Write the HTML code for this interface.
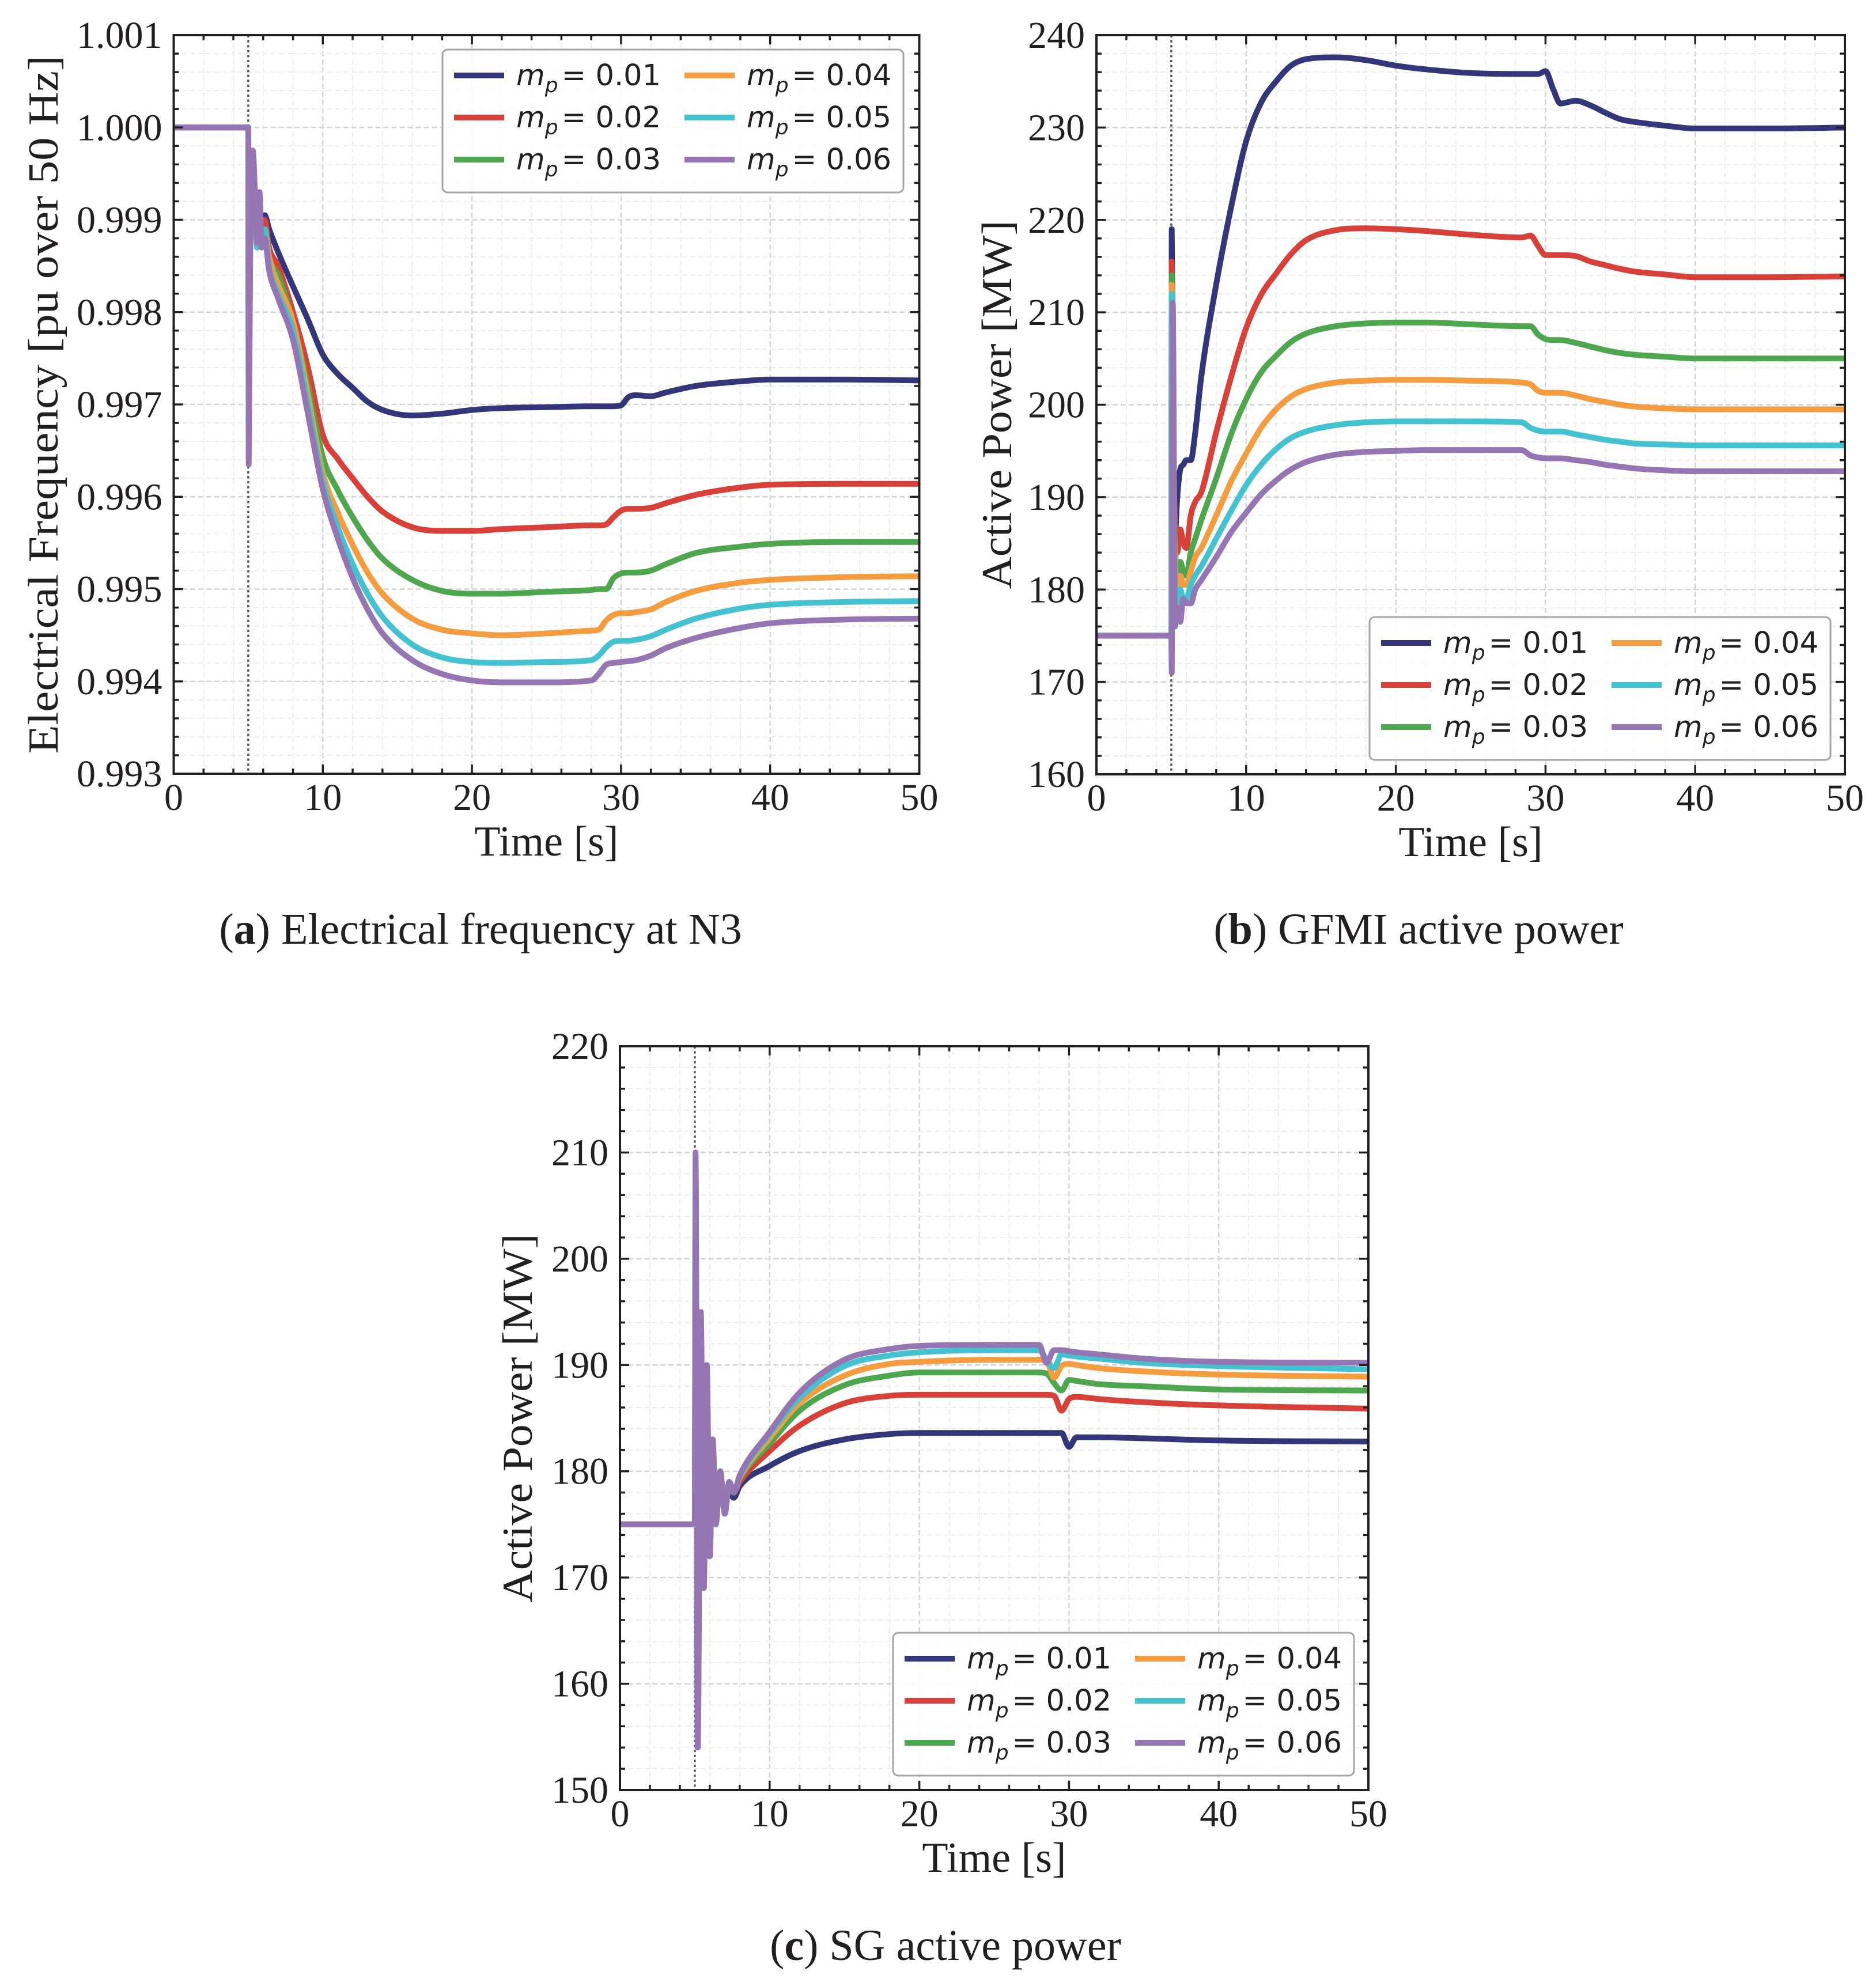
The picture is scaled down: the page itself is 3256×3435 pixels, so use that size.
<!DOCTYPE html>
<html><head><meta charset="utf-8"><title>Frequency and active power responses</title>
<style>html,body{margin:0;padding:0;background:#fff}svg{display:block}</style></head>
<body>
<svg id="fig" width="3256" height="3435" viewBox="0 0 3256 3435" xmlns="http://www.w3.org/2000/svg"></svg>
<script>
// ---------- data ----------
const seriesLabels = ["0.01","0.02","0.03","0.04","0.05","0.06"];
const seriesColors = ["#33377a","#d8403a","#4ea64e","#f39c40","#45c2d0","#9675b3"];

// (a) frequency
const timeA = [0,5,5.03,5.15,5.3,5.45,5.6,5.75,5.9,6.1,6.4,7,8,9,10,11,12,13,14,16,18,20,22,25,28,28.5,29,29.5,30,30.5,31,32,33,35,38,40,45,50];
const freqMp01 = [1,1,0.9975,0.9993,0.9996,0.9992,0.9988,0.999,0.99895,0.99905,0.9989,0.99865,0.99828,0.99792,0.99754,0.99733,0.99718,0.99703,0.99694,0.99688,0.9969,0.99694,0.99696,0.99697,0.99698,0.99698,0.99698,0.99698,0.99699,0.99708,0.9971,0.99709,0.99713,0.9972,0.99725,0.99727,0.99727,0.99726];
const freqMp02 = [1,1,0.9972,0.9992,0.9996,0.9991,0.9987,0.999,0.9988,0.999,0.9987,0.9985,0.998,0.9974,0.99667,0.99641,0.9962,0.996,0.99584,0.99567,0.99563,0.99563,0.99565,0.99567,0.99569,0.99569,0.9957,0.99578,0.99585,0.99587,0.99587,0.99588,0.99593,0.99602,0.9961,0.99613,0.99614,0.99614];
const freqMp03 = [1,1,0.997,0.9992,0.9996,0.9991,0.9987,0.999,0.9987,0.9989,0.9986,0.9984,0.9979,0.9972,0.99643,0.99607,0.99578,0.99553,0.99533,0.9951,0.99498,0.99495,0.99495,0.99497,0.99499,0.995,0.995,0.99512,0.99517,0.99518,0.99518,0.9952,0.99527,0.99539,0.99546,0.99549,0.99551,0.99551];
const freqMp04 = [1,1,0.9969,0.9992,0.99965,0.9991,0.9987,0.9991,0.9987,0.9989,0.9986,0.9983,0.9979,0.9971,0.99626,0.99583,0.99548,0.99518,0.99495,0.99468,0.99456,0.99452,0.9945,0.99452,0.99455,0.99456,0.99466,0.99472,0.99474,0.99474,0.99475,0.99478,0.99486,0.99498,0.99507,0.9951,0.99513,0.99514];
const freqMp05 = [1,1,0.9967,0.9992,0.9997,0.9992,0.9987,0.9992,0.9987,0.9989,0.9985,0.9982,0.9978,0.997,0.99617,0.99567,0.99527,0.99495,0.9947,0.9944,0.99426,0.99421,0.9942,0.99421,0.99423,0.99428,0.99437,0.99443,0.99444,0.99444,0.99445,0.99449,0.99456,0.99468,0.99479,0.99483,0.99486,0.99487];
const freqMp06 = [1,1,0.99635,0.9992,0.99975,0.9993,0.99875,0.9993,0.9987,0.9988,0.99845,0.99815,0.9977,0.9969,0.99608,0.99555,0.99512,0.99478,0.99452,0.99423,0.99408,0.99401,0.99399,0.99399,0.99401,0.99408,0.99418,0.9942,0.99421,0.99422,0.99423,0.99428,0.99436,0.99447,0.99458,0.99463,0.99467,0.99468];
const yTicksA = ["0.993","0.994","0.995","0.996","0.997","0.998","0.999","1.000","1.001"];

// (b) GFMI active power
const timeB = [0,5,5.03,5.1,5.25,5.4,5.6,5.8,6.0,6.3,6.6,7,8,9,10,11,12,13,14,16,18,20,22,25,28.4,29,29.5,30,30.5,31,32,33,34,35,36,38,40,45,50];
const gfmiMp01 = [175,175,219,205,186,190,193,193.5,194,194,197,203,213,221.4,228.5,232.7,235,236.7,237.4,237.6,237.3,236.7,236.3,235.9,235.8,235.8,235.8,236.1,234.2,232.6,232.9,232.4,231.6,230.9,230.6,230.2,229.9,229.9,230.0];
const gfmiMp02 = [175,175,215.5,200,187,184,186.5,185,184.5,188,189.5,190.5,197,203,208.3,211.9,214.2,216.3,217.8,218.9,219.1,219,218.8,218.4,218.1,218.3,217.2,216.2,216.2,216.2,216.1,215.5,215.1,214.7,214.4,214.1,213.8,213.8,213.9];
const gfmiMp03 = [175,175,214,198,185,181.5,183,182,181.5,184,185.5,187.5,192,196.8,200.6,203.5,205.3,206.8,207.7,208.5,208.8,208.9,208.9,208.7,208.5,208.5,207.6,207.1,207,207,206.7,206.3,205.9,205.6,205.4,205.2,205,205,205];
const gfmiMp04 = [175,175,213,196,183,180,181.5,180.5,180.5,182,183.5,184.5,188,191.7,194.7,197.5,199.5,200.9,201.7,202.4,202.6,202.7,202.7,202.6,202.4,202.2,201.5,201.3,201.3,201.3,201,200.6,200.3,200,199.8,199.6,199.5,199.5,199.5];
const gfmiMp05 = [175,175,212,194,181,178,180,179,179,180.5,181.5,182.5,185.5,188.5,191.3,193.5,195.2,196.4,197.1,197.8,198.1,198.2,198.2,198.2,198.1,197.5,197.2,197.1,197.1,197.1,196.8,196.5,196.2,196,195.8,195.7,195.6,195.6,195.6];
const gfmiMp06 = [175,175,171,211,176,178,176.5,179,178.5,178.5,180,181,183.5,186.2,188.3,190.3,191.8,193,193.8,194.6,194.9,195,195.1,195.1,195.1,194.5,194.3,194.2,194.2,194.2,194,193.8,193.5,193.3,193.1,192.9,192.8,192.8,192.8];
const yTicksB = ["160","170","180","190","200","210","220","230","240"];

// (c) SG active power
const timeC = [0,5,5.05,5.2,5.4,5.6,5.8,6.0,6.2,6.4,6.7,7.0,7.3,7.6,8,10,12,15,18,20,25,28,28.5,29,29.5,30,30.5,32,35,40,50];
const sgMp01 = [175,175,195,162,188,172,185,174,181,176,179,177,178,177.5,178.6,180.5,181.9,183,183.5,183.6,183.6,183.6,183.6,183.6,183.6,182.3,183.2,183.2,183.1,182.9,182.8];
const sgMp02 = [175,175,200,160,190,171,186,173,182,176,179.5,176.5,178.5,178,179,181.9,184.3,186.4,187.1,187.2,187.2,187.2,187.2,187.1,185.7,186.8,187,186.8,186.5,186.2,185.9];
const sgMp03 = [175,175,204,158,192,170,187,173,182,175.5,180,176,179,178,179.3,182.6,185.7,188.1,189,189.3,189.3,189.3,189.2,188.3,187.6,188.6,188.5,188.2,188,187.7,187.6];
const sgMp04 = [175,175,206,157,193,170,188,172.5,182.5,175.5,180,176,179,178,179.4,183.1,186.4,189,190.1,190.3,190.5,190.5,190.4,188.8,189.9,190.1,190,189.7,189.4,189.1,188.9];
const sgMp05 = [175,175,208,155,194,169,189,172,183,175,180,176,179,178,179.5,183.5,186.9,189.9,190.9,191.2,191.4,191.4,190.5,189.7,191,190.9,190.8,190.6,190.2,189.9,189.6];
const sgMp06 = [175,175,210,154,195,169,190,172,183,175,180,176,179,178,179.6,183.7,187.4,190.5,191.5,191.8,191.9,191.9,190.2,191.4,191.4,191.3,191.2,191,190.6,190.3,190.2];
const yTicksC = ["150","160","170","180","190","200","210","220"];

const xTicks = ["0","10","20","30","40","50"];

// ---------- drawing ----------
const NS = "http://www.w3.org/2000/svg";
const svg = document.getElementById("fig");
function el(tag, attrs, parent) {
  const e = document.createElementNS(NS, tag);
  for (const k in attrs) e.setAttribute(k, attrs[k]);
  (parent || svg).appendChild(e);
  return e;
}
const SERIF = '"Liberation Serif", serif';
const SANS = '"DejaVu Sans", "Liberation Sans", sans-serif';

// monotone cubic (Fritsch-Carlson) path
function monoPath(px, py) {
  const n = px.length;
  if (n < 3) return px.map((x, i) => (i ? "L" : "M") + x + "," + py[i]).join("");
  const dx = [], s = [];
  for (let i = 0; i < n - 1; i++) { dx[i] = px[i+1] - px[i]; s[i] = dx[i] ? (py[i+1] - py[i]) / dx[i] : 0; }
  const m = [s[0]];
  for (let i = 1; i < n - 1; i++) m[i] = (s[i-1] * s[i] <= 0) ? 0 : (s[i-1] + s[i]) / 2;
  m[n-1] = s[n-2];
  for (let i = 0; i < n - 1; i++) {
    if (s[i] === 0) { m[i] = 0; m[i+1] = 0; continue; }
    const a = m[i] / s[i], b = m[i+1] / s[i], h = a*a + b*b;
    if (h > 9) { const t = 3 / Math.sqrt(h); m[i] = t*a*s[i]; m[i+1] = t*b*s[i]; }
  }
  let d = "M" + px[0].toFixed(1) + "," + py[0].toFixed(1);
  for (let i = 0; i < n - 1; i++) {
    const h = dx[i] / 3;
    d += "C" + (px[i]+h).toFixed(1) + "," + (py[i]+m[i]*h).toFixed(1) + " " + (px[i+1]-h).toFixed(1) + "," + (py[i+1]-m[i+1]*h).toFixed(1) + " " + px[i+1].toFixed(1) + "," + py[i+1].toFixed(1);
  }
  return d;
}

function drawPlot(id, box, ymin, ymax, yMinorStep, yTickLabels, times, seriesList, legendBox, yTitle, yTitleLen, yTitleX) {
  const g = el("g", {});
  
  
  const {L, T, R, B} = box;
  const xs = t => L + (t - 0) / 50 * (R - L);
  const ys = v => B - (v - ymin) / (ymax - ymin) * (B - T);
  const clipId = id + "-clip";
  const cp = el("clipPath", {id: clipId}, g);
  el("rect", {x: L, y: T, width: R - L, height: B - T}, cp);

  const grid = el("g", {}, g);
  
  
  for (let t = 2; t < 50; t += 2) {
    const major = t % 10 === 0;
    el("line", {x1: xs(t), x2: xs(t), y1: T, y2: B, stroke: major ? "#d4d4d4" : "#ececec", "stroke-width": major ? 2.5 : 1.8, "stroke-dasharray": "9,5"}, grid);
  }
  const nY = Math.round((ymax - ymin) / yMinorStep);
  const perMajor = Math.round((ymax - ymin) / (yTickLabels.length - 1) / yMinorStep);
  for (let i = 1; i < nY; i++) {
    const y = B - i / nY * (B - T);
    const major = i % perMajor === 0;
    el("line", {x1: L, x2: R, y1: y, y2: y, stroke: major ? "#d4d4d4" : "#ececec", "stroke-width": major ? 2.5 : 1.8, "stroke-dasharray": "9,5"}, grid);
  }

  const ev = el("line", {x1: xs(5), x2: xs(5), y1: T, y2: B, stroke: "#555", "stroke-width": 3.5, "stroke-dasharray": "4,4.6"}, g);
  
  

  const lines = el("g", {"clip-path": "url(#" + clipId + ")"}, g);
  seriesList.forEach((vals, si) => {
    const px = vals.map((v, i) => xs(times[i]));
    const py = vals.map(v => ys(v));
    const p = el("path", {d: monoPath(px, py), fill: "none", stroke: seriesColors[si], "stroke-width": 10, "stroke-linejoin": "round", "stroke-linecap": "round"}, lines);
    
    
  });

  const ticks = el("g", {stroke: "#231f20", "stroke-width": 3.5}, g);
  for (let t = 0; t <= 50; t += 2) {
    const len = t % 10 === 0 ? 16 : 9;
    el("line", {x1: xs(t), x2: xs(t), y1: B, y2: B - len}, ticks);
    el("line", {x1: xs(t), x2: xs(t), y1: T, y2: T + len}, ticks);
  }
  for (let i = 0; i <= nY; i++) {
    const y = B - i / nY * (B - T);
    const len = i % perMajor === 0 ? 16 : 9;
    el("line", {x1: L, x2: L + len, y1: y, y2: y}, ticks);
    el("line", {x1: R, x2: R - len, y1: y, y2: y}, ticks);
  }
  const frame = el("rect", {x: L, y: T, width: R - L, height: B - T, fill: "none", stroke: "#231f20", "stroke-width": 4}, g);
  
  

  xTicks.forEach(lbl => {
    const tx = el("text", {x: xs(+lbl), y: B + 63, "text-anchor": "middle", "font-family": SERIF, "font-size": 66, fill: "#231f20"}, g);
    tx.textContent = lbl;
    
    
  });
  yTickLabels.forEach(lbl => {
    const ty = el("text", {x: L - 20, y: ys(+lbl) + 22, "text-anchor": "end", "font-family": SERIF, "font-size": 66, fill: "#231f20"}, g);
    ty.textContent = lbl;
    
    
  });

  const xt = el("text", {x: (L + R) / 2, y: B + 142, "text-anchor": "middle", "font-family": SERIF, "font-size": 74, fill: "#231f20"}, g);
  xt.textContent = "Time [s]";
  
  
  const cy = (T + B) / 2;
  const yt = el("text", {x: yTitleX, y: cy, "text-anchor": "middle", "font-family": SERIF, "font-size": 74, fill: "#231f20", textLength: yTitleLen, lengthAdjust: "spacingAndGlyphs", transform: "rotate(-90 " + yTitleX + " " + cy + ")", "dominant-baseline": "central"}, g);
  yt.textContent = yTitle;
  
  

  const lg = el("g", {}, g);
  
  
  el("rect", {x: legendBox.x, y: legendBox.y, width: 800, height: 248, rx: 9, fill: "#fff", "fill-opacity": 0.85, stroke: "#a5a5a7", "stroke-width": 3}, lg);
  seriesLabels.forEach((lbl, i) => {
    const col = Math.floor(i / 3), row = i % 3;
    const hx = legendBox.x + 20 + col * 400;
    const hy = legendBox.y + 45 + row * 73;
    const ent = el("g", {}, lg);
    
    
    el("line", {x1: hx, x2: hx + 87, y1: hy, y2: hy, stroke: seriesColors[i], "stroke-width": 10}, ent);
    const t = el("text", {x: hx + 108, y: hy + 17, "font-family": SANS, "font-size": 51, fill: "#231f20"}, ent);
    const m = el("tspan", {"font-style": "italic"}, t); m.textContent = "m";
    const p = el("tspan", {"font-style": "italic", "font-size": 36, dy: 12}, t); p.textContent = "p";
    const r = el("tspan", {dy: -12, dx: 6}, t); r.textContent = "= " + lbl;
  });
}

drawPlot("freq", {L: 301.5, T: 61, R: 1595.5, B: 1343}, 0.993, 1.001, 0.0002, yTicksA, timeA,
  [freqMp01, freqMp02, freqMp03, freqMp04, freqMp05, freqMp06], {x: 768, y: 86},
  "Electrical Frequency [pu over 50 Hz]", 1212, 76);
drawPlot("gfmi", {L: 1903, T: 61, R: 3202, B: 1344}, 160, 240, 2, yTicksB, timeB,
  [gfmiMp01, gfmiMp02, gfmiMp03, gfmiMp04, gfmiMp05, gfmiMp06], {x: 2377, y: 1071},
  "Active Power [MW]", 640, 1731);
drawPlot("sg", {L: 1076, T: 1816, R: 2375, B: 3107}, 150, 220, 2, yTicksC, timeC,
  [sgMp01, sgMp02, sgMp03, sgMp04, sgMp05, sgMp06], {x: 1550, y: 2834},
  "Active Power [MW]", 640, 899);

function caption(x, y, letter, rest, name) {
  const t = el("text", {x: x, y: y, "text-anchor": "middle", "font-family": SERIF, "font-size": 76, fill: "#231f20"});
  
  
  const a = el("tspan", {}, t); a.textContent = "(";
  const b = el("tspan", {"font-weight": "bold"}, t); b.textContent = letter;
  const c = el("tspan", {}, t); c.textContent = ") " + rest;
}
caption(834, 1638, "a", "Electrical frequency at N3", "caption-a");
caption(2462, 1638, "b", "GFMI active power", "caption-b");
caption(1641, 3402, "c", "SG active power", "caption-c");
</script>
</body></html>
